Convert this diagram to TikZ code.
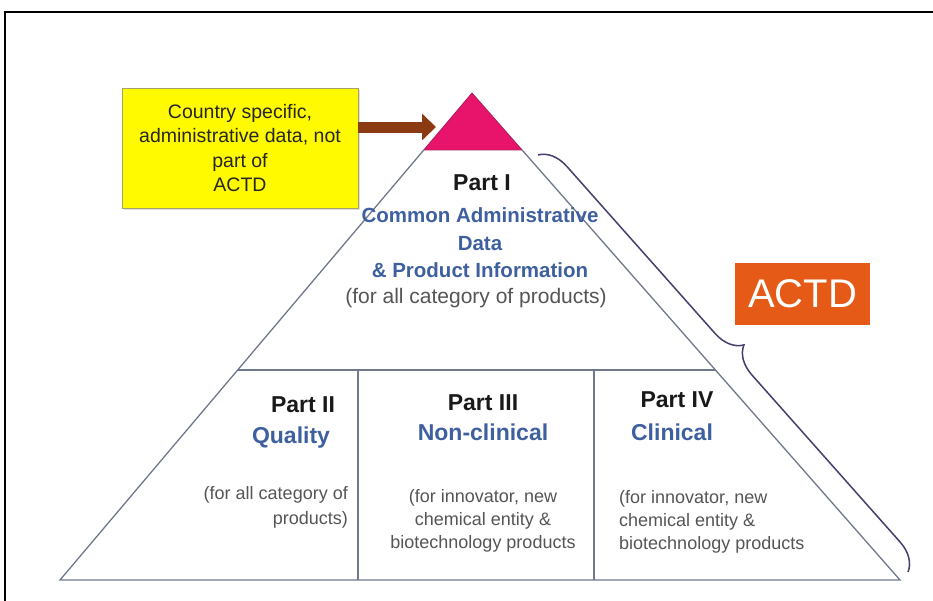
\documentclass[tikz,border=0pt]{standalone}
\usepackage{fontspec}
\setmainfont{Liberation Sans}
\usetikzlibrary{arrows.meta,decorations.pathreplacing,calc,shadows}
\definecolor{triline}{RGB}{112,120,140}
\definecolor{pinkfill}{RGB}{232,20,108}
\definecolor{pinkedge}{RGB}{170,30,90}
\definecolor{yfill}{RGB}{255,250,0}
\definecolor{yedge}{RGB}{165,160,110}
\definecolor{arrbrown}{RGB}{140,58,20}
\definecolor{actdorange}{RGB}{228,90,22}
\definecolor{subblue}{RGB}{62,96,158}
\definecolor{notegray}{RGB}{85,85,85}
\definecolor{titleblack}{RGB}{25,25,25}
\definecolor{bracecol}{RGB}{72,62,110}
\tikzset{
  frameline/.style={draw=black, line width=2pt},
  triedge/.style={draw=triline, line width=1.3pt},
  ybox/.style={draw=yedge, fill=yfill, line width=0.8pt, align=center, inner sep=0pt,
    minimum width=236pt, minimum height=120pt, text=black!85,
    font=\fontsize{19.5}{24.5}\selectfont,
    drop shadow={shadow xshift=2pt, shadow yshift=-2pt, opacity=0.25}},
  brownarrow/.style={draw=arrbrown, line width=11pt, -{Triangle[length=14pt,width=26pt]}},
  actdbox/.style={fill=actdorange, text=white, inner sep=0pt, minimum width=135pt,
    minimum height=62pt, font=\fontsize{40}{44}\selectfont},
  ptitle/.style={inner sep=0pt, text=titleblack, font=\fontsize{23}{27}\selectfont\bfseries},
  psub/.style={inner sep=0pt, text=subblue, font=\fontsize{23}{27}\selectfont\bfseries},
  psubone/.style={inner sep=0pt, text=subblue, align=center, font=\fontsize{20.5}{27.5}\selectfont\bfseries},
  pnote/.style={inner sep=0pt, text=notegray, font=\fontsize{18}{23}\selectfont},
  pnoteone/.style={inner sep=0pt, text=notegray, font=\fontsize{21}{25}\selectfont},
  bracestyle/.style={draw=bracecol, line width=1.5pt, decorate,
    decoration={brace, amplitude=28pt, aspect=0.5}}
}
\begin{document}
\begin{tikzpicture}[x=1pt,y=-1pt]
\useasboundingbox (0,0) rectangle (933,600);
\fill[white] (0,0) rectangle (933,600);
% outer frame
\draw[frameline] (5,601) -- (5,12) -- (934,12);

% pyramid geometry
\coordinate (apex) at (472,93);
\coordinate (bl) at (60,580);
\coordinate (br) at (900,580);
\coordinate (pl) at ($(apex)!0.117!(bl)$);
\coordinate (pr) at ($(apex)!0.117!(br)$);
\coordinate (ml) at ($(apex)!0.5688!(bl)$);
\coordinate (mr) at ($(apex)!0.5688!(br)$);

% pink top
\filldraw[fill=pinkfill, draw=pinkedge, line width=0.8pt] (apex) -- (pl) -- (pr) -- cycle;
% main triangle
\draw[triedge] (pl) -- (bl) -- (br) -- (pr);
\draw[triedge] (ml) -- (mr);
\draw[triedge] (358,370) -- (358,580);
\draw[triedge] (594,370) -- (594,580);

% yellow box and arrow
\node[ybox] (ybox) at (240,148) {Country specific,\\administrative data, not\\part of\\ACTD};
\coordinate (arrtip) at (436,127);
\draw[brownarrow] (ybox.east |- arrtip) -- (arrtip);

% brace and ACTD label
\coordinate (bracetop) at (538,155);
\coordinate (bracebot) at (908,572);
\draw[bracestyle] (bracetop) -- (bracebot);
\node[actdbox] (actd) at (802.5,294) {ACTD};

% Part I
\node[ptitle] (p1t) at (482,183) {Part I};
\node[psubone] (p1s) at (480,243) {Common Administrative\\Data\\\& Product Information};
\node[pnoteone] (p1n) at (476,298) {(for all category of products)};

% Part II
\node[ptitle] (p2t) at (303,405) {Part II};
\node[psub] (p2s) at (291,438) {Quality};
\node[pnote, align=right, anchor=east, font=\fontsize{18}{25}\selectfont] (p2n) at (348,507) {(for all category of\\products)};

% Part III
\node[ptitle] (p3t) at (483,403) {Part III};
\node[psub] (p3s) at (483,432) {Non-clinical};
\node[pnote, align=center] (p3n) at (483,521) {(for innovator, new\\chemical entity \&\\biotechnology products};

% Part IV
\node[ptitle] (p4t) at (677,400) {Part IV};
\node[psub] (p4s) at (672,432) {Clinical};
\node[pnote, align=left, anchor=west] (p4n) at (619,522) {(for innovator, new\\chemical entity \&\\biotechnology products};
\end{tikzpicture}
\end{document}
